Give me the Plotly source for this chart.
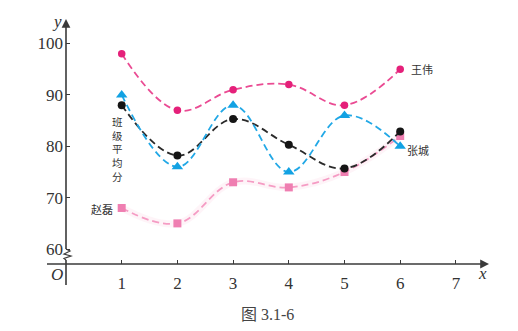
import plotly.graph_objects as go

# Exam number on the x axis, scores on the y axis
exams = [1, 2, 3, 4, 5, 6]
wang_wei = [98, 87, 91, 92, 88, 95]
zhang_cheng = [90, 76, 88, 75, 86, 80]
class_avg = [88, 78.2, 85.3, 80.3, 75.7, 82.9]
zhao_lei = [68, 65, 73, 72, 75, 82]

x_ticks = [1, 2, 3, 4, 5, 6, 7]
y_ticks = [60, 70, 80, 90, 100]

W, H = 518, 331
L, R, T, B = 66, 31, 21, 67
PW, PH = W - L - R, H - T - B

SERIF = "Liberation Serif, Times New Roman, DejaVu Serif, serif"
CJK = "Noto Sans CJK SC"


def px(xp):
    return (xp - L) / PW


def py(yp):
    return (H - B - yp) / PH


fig = go.Figure()

# faint glow under the 赵磊 curve
fig.add_trace(go.Scatter(
    x=exams, y=zhao_lei, mode="lines", line=dict(shape="spline", smoothing=1.1,
                                                 color="rgba(245,150,190,0.10)", width=7),
    hoverinfo="skip", showlegend=False))

series = [
    (zhao_lei, "#f59cc4", "#ef7eb1", "square", 8),
    (wang_wei, "#ea4b93", "#e5207a", "circle", 7.5),
    (class_avg, "#2a2a2a", "#151515", "circle", 8),
    (zhang_cheng, "#22a8e6", "#12a2e3", "triangle-up", 10),
]
for ys, lc, mc, sym, ms in series:
    fig.add_trace(go.Scatter(
        x=exams, y=ys, mode="lines",
        line=dict(shape="spline", smoothing=1.1, color=lc, width=1.8, dash="7px,4px"),
        showlegend=False, hoverinfo="skip"))
    fig.add_trace(go.Scatter(
        x=exams, y=ys, mode="markers",
        marker=dict(symbol=sym, size=ms, color=mc), showlegend=False))

axis_col = "#3a3a3a"
shapes = [
    # x axis
    dict(type="line", xref="paper", yref="paper", x0=px(47), x1=px(484), y0=0, y1=0,
         line=dict(color=axis_col, width=1.6)),
    # y axis, upper part
    dict(type="line", xref="paper", yref="paper", x0=0, x1=0, y0=py(249), y1=py(24),
         line=dict(color=axis_col, width=1.6)),
    # y axis, lower part
    dict(type="line", xref="paper", yref="paper", x0=0, x1=0, y0=py(285), y1=py(260),
         line=dict(color=axis_col, width=1.6)),
    # axis break zigzag
    dict(type="path", xref="paper", yref="paper",
         path="M {},{} L {},{} L {},{} L {},{} L {},{} L {},{}".format(
             px(66), py(249), px(70), py(251), px(64), py(254),
             px(71), py(256), px(64), py(258.5), px(66), py(260)),
         line=dict(color=axis_col, width=1.2)),
]


def note(xp, yp, text, size=17):
    return dict(xref="paper", yref="paper", x=px(xp), y=py(yp), text=text, showarrow=False,
                xanchor="center", yanchor="middle",
                font=dict(family=SERIF, size=size, color="#333"))


annotations = [
    # arrow heads
    dict(xref="paper", yref="paper", x=px(489), y=0, ax=-8, ay=0, showarrow=True,
         arrowhead=2, arrowsize=1.1, arrowwidth=1.6, arrowcolor=axis_col, text=""),
    dict(xref="paper", yref="paper", x=0, y=py(19), ax=0, ay=8, showarrow=True,
         arrowhead=2, arrowsize=1.1, arrowwidth=1.6, arrowcolor=axis_col, text=""),
    # axis letters
    note(482, 273, "<i>x</i>"),
    note(57, 21, "<i>y</i>"),
    note(57, 274, "<i>O</i>"),
    # series names
    dict(x=exams[-1], y=wang_wei[-1], text="王伟", showarrow=False, xanchor="left",
         yanchor="middle", xshift=9, font=dict(family=CJK, size=11, color="#333")),
    dict(x=exams[-1], y=zhang_cheng[-1], text="张城", showarrow=False, xanchor="left",
         yanchor="middle", xshift=5, yshift=-4, font=dict(family=CJK, size=11, color="#333")),
    dict(x=exams[0], y=zhao_lei[0], text="赵磊", showarrow=False, xanchor="right",
         yanchor="middle", xshift=-7, yshift=-1, font=dict(family=CJK, size=11, color="#333")),
    dict(x=exams[0], y=class_avg[0], text="班<br>级<br>平<br>均<br>分", showarrow=False,
         xanchor="center", yanchor="top", xshift=-4, yshift=-7,
         font=dict(family=CJK, size=10.5, color="#333")),
    # caption
    dict(xref="paper", yref="paper", x=px(267), y=py(314), text="图 3.1-6", showarrow=False,
         xanchor="center", yanchor="middle",
         font=dict(family=SERIF + ", " + CJK, size=16, color="#444")),
]

fig.update_layout(
    width=W, height=H, margin=dict(l=L, r=R, t=T, b=B),
    paper_bgcolor="white", plot_bgcolor="white",
    shapes=shapes, annotations=annotations,
    xaxis=dict(range=[0, PW / 55.7], tickvals=x_ticks, ticks="inside", ticklen=4, tickwidth=1.2,
               tickcolor=axis_col, showgrid=False, zeroline=False, showline=False,
               ticklabelstandoff=7,
               tickfont=dict(family=SERIF, size=17, color="#333")),
    yaxis=dict(range=[57.1, 57.1 + PH / 5.14], tickvals=y_ticks, ticks="inside", ticklen=4,
               tickwidth=1.2, tickcolor=axis_col, showgrid=False, zeroline=False, showline=False,
               ticklabelstandoff=2,
               tickfont=dict(family=SERIF, size=17, color="#333")),
)

fig.write_html("out.html")
